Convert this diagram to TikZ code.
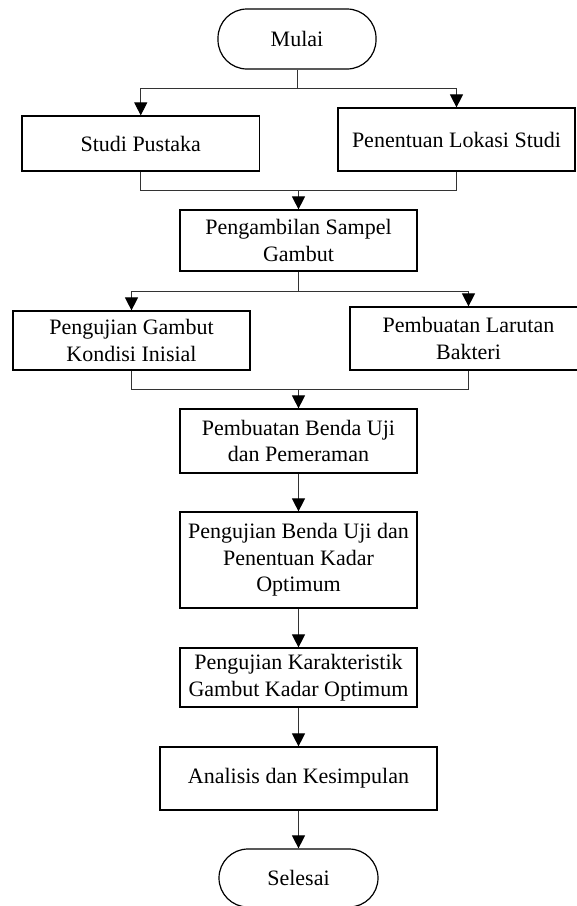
\documentclass[tikz,border=0pt]{standalone}
\usepackage{fontspec}
\setmainfont{Liberation Serif}
\usetikzlibrary{arrows.meta,calc}
\begin{document}
\begin{tikzpicture}[x=1pt,y=-1pt,
  box/.style={draw=black,line width=1.2pt,rectangle,align=center,inner sep=1pt,
    font=\fontsize{22}{26.5}\selectfont},
  term/.style={box,rounded corners=29pt},
  conn/.style={draw=black!80,line width=1pt},
  arr/.style={conn,-{Triangle[length=13pt,width=13pt,fill=black,color=black]}}]
\path[use as bounding box] (0,0) rectangle (577,906);
\node[term,minimum width=158pt,minimum height=60pt] (mulai) at (297,39) {Mulai};
\node[box,minimum width=237.5pt,minimum height=55pt] (studi) at (140.75,143.5) {Studi Pustaka};
\node[box,minimum width=237pt,minimum height=63pt] (lokasi) at (456.5,139.5) {Penentuan Lokasi Studi};
\node[box,minimum width=237pt,minimum height=61pt] (ambil) at (298.5,240.5) {Pengambilan Sampel\\Gambut};
\node[box,minimum width=237pt,minimum height=59pt] (inisial) at (131.5,340.5) {Pengujian Gambut\\Kondisi Inisial};
\node[box,minimum width=237pt,minimum height=63pt] (larutan) at (468.5,338.5) {Pembuatan Larutan\\Bakteri};
\node[box,minimum width=237pt,minimum height=64pt] (benda) at (298.5,441) {Pembuatan Benda Uji\\dan Pemeraman};
\node[box,minimum width=237pt,minimum height=96pt] (kadar) at (298.5,560) {Pengujian Benda Uji dan\\Penentuan Kadar\\Optimum};
\node[box,minimum width=237pt,minimum height=59pt] (karak) at (298.5,677.5) {Pengujian Karakteristik\\Gambut Kadar Optimum};
\node[box,minimum width=277pt,minimum height=63pt] (analisis) at (298.5,778.5) {Analisis dan Kesimpulan};
\node[term,minimum width=159pt,minimum height=58pt] (selesai) at (298.5,878) {Selesai};
\coordinate (b1) at (297,88);
\coordinate (m1) at (298.5,190);
\coordinate (b2) at (298.5,291);
\coordinate (m2) at (298.5,389);
\draw[conn] (mulai.south) -- (b1);
\draw[arr] (b1) -| (studi.north);
\draw[arr] (b1) -| (lokasi.north);
\draw[conn] (studi.south) |- (m1);
\draw[conn] (lokasi.south) |- (m1);
\draw[arr] (m1) -- (ambil.north);
\draw[conn] (ambil.south) -- (b2);
\draw[arr] (b2) -| (inisial.north);
\draw[arr] (b2) -| (larutan.north);
\draw[conn] (inisial.south) |- (m2);
\draw[conn] (larutan.south) |- (m2);
\draw[arr] (m2) -- (benda.north);
\draw[arr] (benda) -- (kadar);
\draw[arr] (kadar) -- (karak);
\draw[arr] (karak) -- (analisis);
\draw[arr] (analisis) -- (selesai);
\end{tikzpicture}
\end{document}
